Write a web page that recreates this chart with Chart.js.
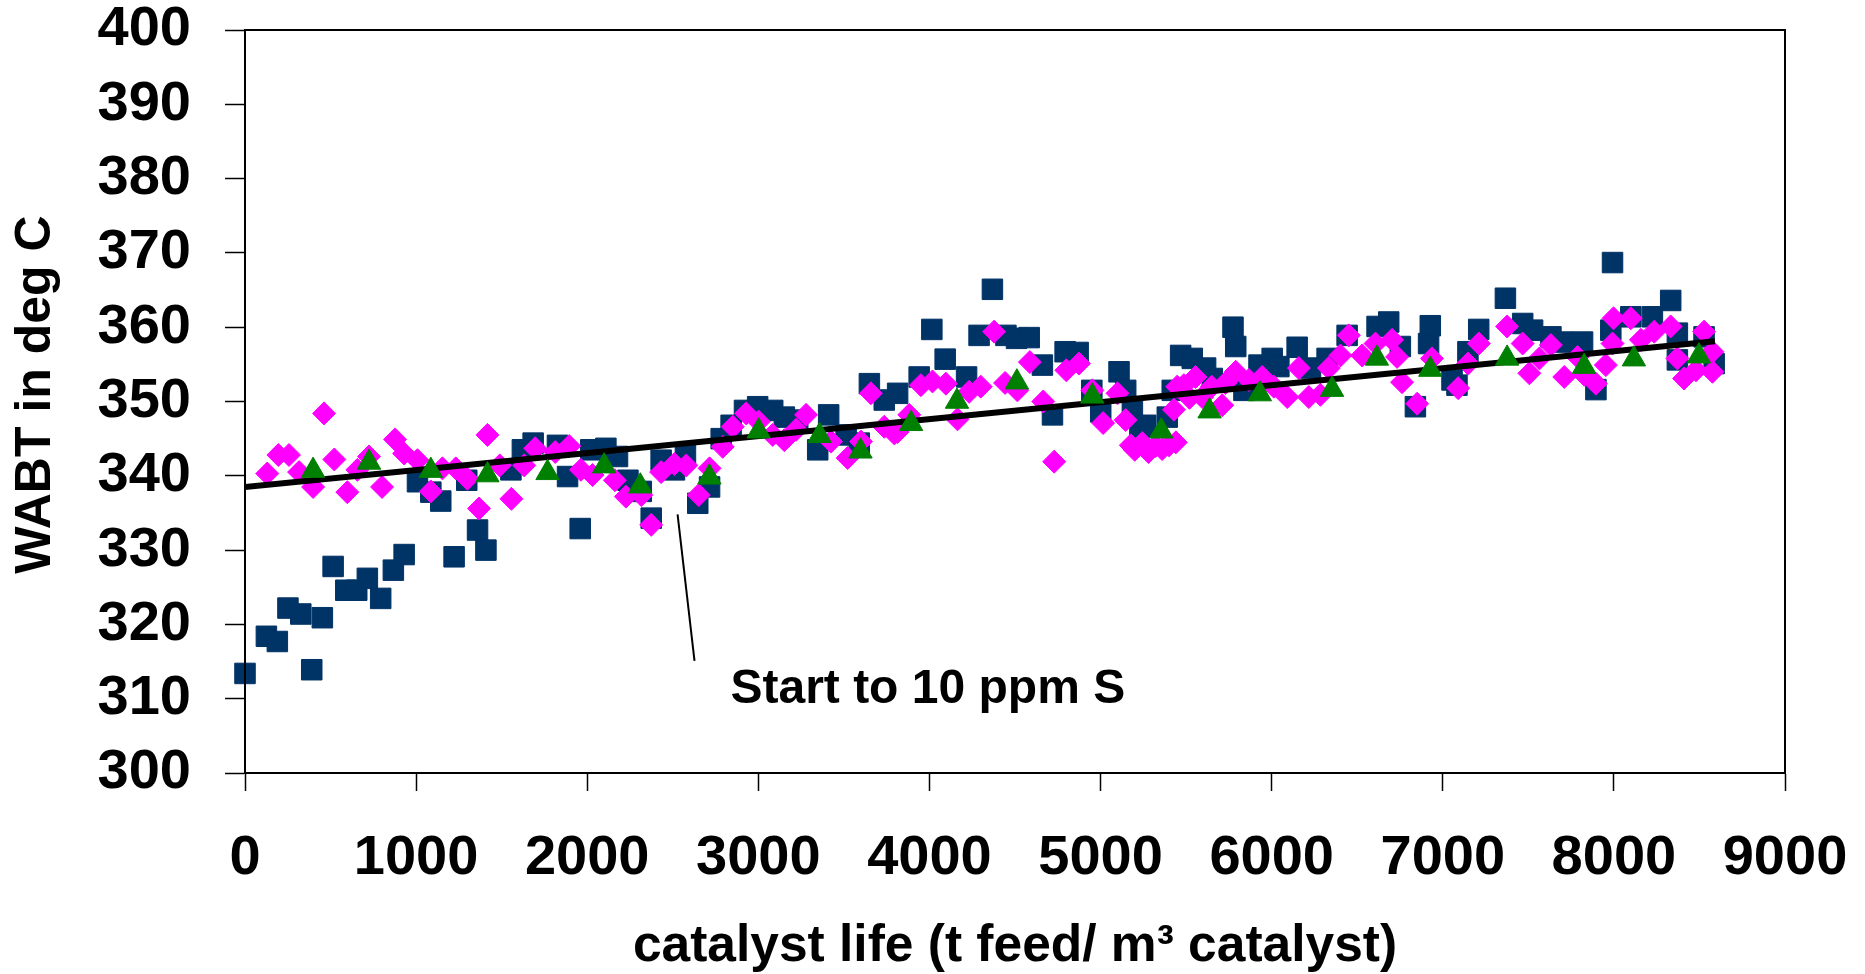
<!DOCTYPE html>
<html>
<head>
<meta charset="utf-8">
<title>WABT vs catalyst life</title>
<script src="https://cdn.jsdelivr.net/npm/chart.js@4.4.1/dist/chart.umd.min.js"></script>
<style>
  html, body { margin: 0; padding: 0; background: #fff; }
  #wrap { width: 1865px; height: 974px; }
</style>
</head>
<body>
<div id="wrap"><canvas id="wabtChart" width="1865" height="974"></canvas></div>
<script>
// catalyst life (t feed / m3 catalyst) and WABT (deg C) per run
const squareX = [0, 125, 189, 251, 326, 390, 452, 515, 589, 653, 715, 793, 867, 930, 1008, 1086, 1144, 1222, 1296, 1359,
    1408, 1554, 1621, 1684, 1826, 1885, 1959, 2021, 2109, 2177, 2238, 2316, 2374, 2432, 2510, 2574, 2646, 2715, 2783, 2841,
    2919, 2996, 3084, 3152, 3230, 3347, 3411, 3513, 3590, 3649, 3736, 3814, 3940, 4014, 4092, 4217, 4290, 4368, 4447, 4509,
    4583, 4660, 4719, 4793, 4869, 4949, 5001, 5108, 5147, 5186, 5230, 5264, 5390, 5419, 5468, 5536, 5614, 5653, 5774, 5790,
    5838, 5926, 6003, 6042, 6149, 6227, 6324, 6441, 6616, 6684, 6752, 6840, 6917, 6927, 7054, 7083, 7147, 7210, 7366, 7467,
    7525, 7632, 7700, 7817, 7895, 7982, 7992, 8099, 8225, 8332, 8371, 8371, 8527, 8586];
const squareY = [313.4, 318.4, 317.7, 322.2, 321.4, 313.9, 320.9, 327.8, 324.6, 324.6, 326.2, 323.5, 327.3, 329.4, 339.2, 337.8, 336.6, 329.1, 339.4, 332.7,
    330.0, 340.8, 343.5, 344.4, 344.1, 339.9, 332.9, 343.5, 343.7, 342.6, 339.4, 337.9, 334.3, 342.1, 340.8, 342.8, 336.3, 338.5, 345.0, 346.8,
    348.8, 349.3, 348.8, 347.9, 347.5, 343.5, 348.2, 345.5, 344.4, 352.4, 350.2, 351.1, 353.3, 359.7, 355.7, 353.3, 358.9, 365.1, 358.9, 358.5,
    358.6, 354.9, 348.2, 356.7, 356.6, 351.5, 348.6, 354.0, 351.5, 348.9, 346.5, 346.8, 347.9, 351.5, 356.2, 355.8, 354.5, 353.1, 360.0, 357.4,
    351.5, 354.9, 355.8, 354.7, 357.3, 354.5, 355.8, 358.9, 360.1, 360.7, 357.4, 349.3, 357.8, 360.2, 352.9, 352.2, 356.7, 359.7, 363.9, 360.5,
    359.6, 358.7, 358.0, 358.0, 351.6, 359.6, 368.7, 361.4, 361.4, 363.6, 359.2, 355.6, 358.7, 355.1];

const diamondX = [130, 195, 257, 316, 398, 462, 522, 598, 657, 725, 801, 877, 930, 1008, 1086, 1154, 1232, 1300, 1368, 1417,
    1489, 1557, 1632, 1696, 1813, 1895, 1963, 2031, 2162, 2226, 2316, 2374, 2432, 2510, 2579, 2652, 2715, 2792, 2851, 2929,
    3002, 3084, 3152, 3221, 3279, 3425, 3522, 3600, 3658, 3736, 3795, 3814, 3882, 3950, 4018, 4096, 4164, 4232, 4300, 4378,
    4442, 4514, 4587, 4665, 4729, 4800, 4874, 4952, 5015, 5099, 5147, 5177, 5200, 5244, 5280, 5322, 5360, 5400, 5429, 5440,
    5448, 5487, 5520, 5555, 5594, 5650, 5711, 5730, 5790, 5867, 5945, 6013, 6091, 6159, 6217, 6285, 6334, 6402, 6451, 6529,
    6607, 6704, 6733, 6762, 6850, 6937, 7090, 7148, 7211, 7376, 7467, 7506, 7565, 7632, 7710, 7788, 7827, 7895, 7953, 7992,
    7998, 8099, 8158, 8236, 8332, 8371, 8410, 8480, 8527, 8576, 8576];
const diamondY = [340.3, 342.8, 342.8, 340.5, 338.5, 348.4, 342.2, 337.8, 340.8, 342.6, 338.5, 344.9, 343.0, 342.1, 337.9, 341.0, 341.0, 339.6, 335.6, 345.5,
    341.4, 336.9, 341.4, 343.7, 343.2, 344.0, 340.8, 340.1, 339.4, 337.2, 337.4, 333.4, 340.5, 341.6, 341.4, 337.4, 341.0, 343.9, 346.6, 348.4,
    347.3, 345.5, 344.8, 346.2, 348.2, 344.6, 342.4, 344.6, 351.1, 346.6, 345.7, 345.9, 348.2, 352.2, 352.7, 352.4, 347.6, 351.3, 352.0, 359.4,
    352.5, 351.5, 355.3, 350.0, 341.9, 354.2, 355.1, 351.5, 347.1, 351.1, 347.5, 344.1, 343.5, 344.4, 343.2, 344.0, 343.6, 344.1, 348.9, 344.5,
    352.0, 352.2, 350.5, 353.3, 350.6, 352.0, 349.5, 352.5, 354.0, 352.9, 353.3, 352.0, 350.6, 354.5, 350.6, 350.9, 354.5, 356.2, 358.9, 356.2,
    357.8, 358.3, 356.0, 352.6, 349.7, 355.8, 351.8, 355.1, 357.8, 360.1, 357.8, 353.8, 355.8, 357.6, 353.3, 356.0, 353.6, 352.4, 354.9, 357.8,
    361.2, 361.2, 358.3, 359.4, 360.1, 355.8, 353.1, 354.2, 359.4, 356.7, 354.0];

const triangleX = [398, 725, 1086, 1417, 1768, 2099, 2310, 2714, 3002, 3358, 3597, 3893, 4161, 4511, 4952, 5355, 5637, 5931, 6353, 6615,
    6927, 7376, 7826, 8117, 8497];
const triangleY = [340.7, 341.8, 340.7, 340.1, 340.4, 341.3, 338.6, 339.8, 346.0, 345.4, 343.3, 347.0, 350.0, 352.6, 350.7, 346.0, 348.7, 351.0, 351.6, 355.8,
    354.3, 355.8, 354.7, 355.7, 356.1];

// linear trend end points
const trendX = [0, 8590];
const trendY = [338.5, 358.1];

const xTicks = [0, 1000, 2000, 3000, 4000, 5000, 6000, 7000, 8000, 9000];
const yTicks = [300, 310, 320, 330, 340, 350, 360, 370, 380, 390, 400];

// leader line and label text, in data units
const noteText = 'Start to 10 ppm S';
const noteLine = [[2528, 334.8], [2627, 315.1]];
const notePos = [2837, 311.2];

const toPoints = (xs, ys) => xs.map((x, i) => ({ x: x, y: ys[i] }));

const FONT = "'Liberation Sans', Arial, sans-serif";

// plot frame + the "Start to 10 ppm S" note
const framePlugin = {
    id: 'frameAndNote',
    afterDatasetsDraw(chart) {
        const { ctx, chartArea, scales } = chart;
        const xs = scales.x, ys = scales.y;
        ctx.save();
        ctx.strokeStyle = '#000';
        ctx.lineWidth = 2;
        ctx.strokeRect(chartArea.left, chartArea.top, chartArea.right - chartArea.left, chartArea.bottom - chartArea.top);

        ctx.beginPath();
        ctx.moveTo(xs.getPixelForValue(noteLine[0][0]), ys.getPixelForValue(noteLine[0][1]));
        ctx.lineTo(xs.getPixelForValue(noteLine[1][0]), ys.getPixelForValue(noteLine[1][1]));
        ctx.stroke();

        ctx.fillStyle = '#000';
        ctx.font = 'bold 48px ' + FONT;
        ctx.textAlign = 'left';
        ctx.textBaseline = 'middle';
        ctx.fillText(noteText, xs.getPixelForValue(notePos[0]), ys.getPixelForValue(notePos[1]));
        ctx.restore();
    }
};

new Chart(document.getElementById('wabtChart'), {
    type: 'scatter',
    data: {
        datasets: [
            {
                label: 'run C',
                data: toPoints(triangleX, triangleY),
                pointStyle: 'triangle',
                pointRadius: 13.5,
                backgroundColor: '#008000',
                borderColor: '#008000',
                borderWidth: 1,
                order: 1
            },
            {
                label: 'trend',
                data: toPoints(trendX, trendY),
                showLine: true,
                borderColor: '#000',
                borderWidth: 6,
                pointRadius: 0,
                order: 2
            },
            {
                label: 'run B',
                data: toPoints(diamondX, diamondY),
                pointStyle: 'rectRot',
                pointRadius: 11.5,
                backgroundColor: '#ff00ff',
                borderColor: '#ff00ff',
                borderWidth: 1,
                order: 3
            },
            {
                label: 'run A',
                data: toPoints(squareX, squareY),
                pointStyle: 'rect',
                pointRadius: 14.5,
                backgroundColor: '#003366',
                borderColor: '#003366',
                borderWidth: 1,
                clip: false,
                order: 4
            }
        ]
    },
    options: {
        responsive: false,
        devicePixelRatio: 1,
        animation: false,
        events: [],
        layout: { padding: { top: 30, right: 80, left: 0, bottom: 0 } },
        plugins: {
            legend: { display: false },
            tooltip: { enabled: false }
        },
        scales: {
            x: {
                type: 'linear',
                min: 0,
                max: 9000,
                afterBuildTicks: s => { s.ticks = xTicks.map(v => ({ value: v })); },
                afterFit: s => {
                    s.height = 201;
                    s.paddingLeft = 0;
                    s.paddingRight = 0;
                },
                grid: { drawOnChartArea: false, drawTicks: true, tickLength: 18, tickColor: '#000', tickWidth: 1.5 },
                border: { display: true, color: '#000', width: 2 },
                ticks: {
                    color: '#000',
                    padding: 34,
                    maxRotation: 0,
                    callback: v => String(v),
                    font: { family: FONT, size: 56, weight: 'bold' }
                },
                title: {
                    display: true,
                    text: 'catalyst life (t feed/ m³ catalyst)',
                    color: '#000',
                    padding: { top: 0, bottom: 1 },
                    font: { family: FONT, size: 51.5, weight: 'bold', lineHeight: 1 }
                }
            },
            y: {
                type: 'linear',
                min: 300,
                max: 400,
                afterBuildTicks: s => { s.ticks = yTicks.map(v => ({ value: v })); },
                afterFit: s => {
                    s.width = 245;
                    s.paddingTop = 0;
                    s.paddingBottom = 0;
                },
                grid: { drawOnChartArea: false, drawTicks: true, tickLength: 20, tickColor: '#000', tickWidth: 1.5 },
                border: { display: true, color: '#000', width: 2 },
                ticks: {
                    color: '#000',
                    padding: 34,
                    callback: v => String(v),
                    font: { family: FONT, size: 56, weight: 'bold' }
                },
                title: {
                    display: true,
                    // leading space nudges the rotated title a little above centre
                    text: ' WABT in deg C',
                    color: '#000',
                    padding: { top: 6, bottom: 0 },
                    font: { family: FONT, size: 50, weight: 'bold' }
                }
            }
        }
    },
    plugins: [framePlugin]
});
</script>
</body>
</html>
